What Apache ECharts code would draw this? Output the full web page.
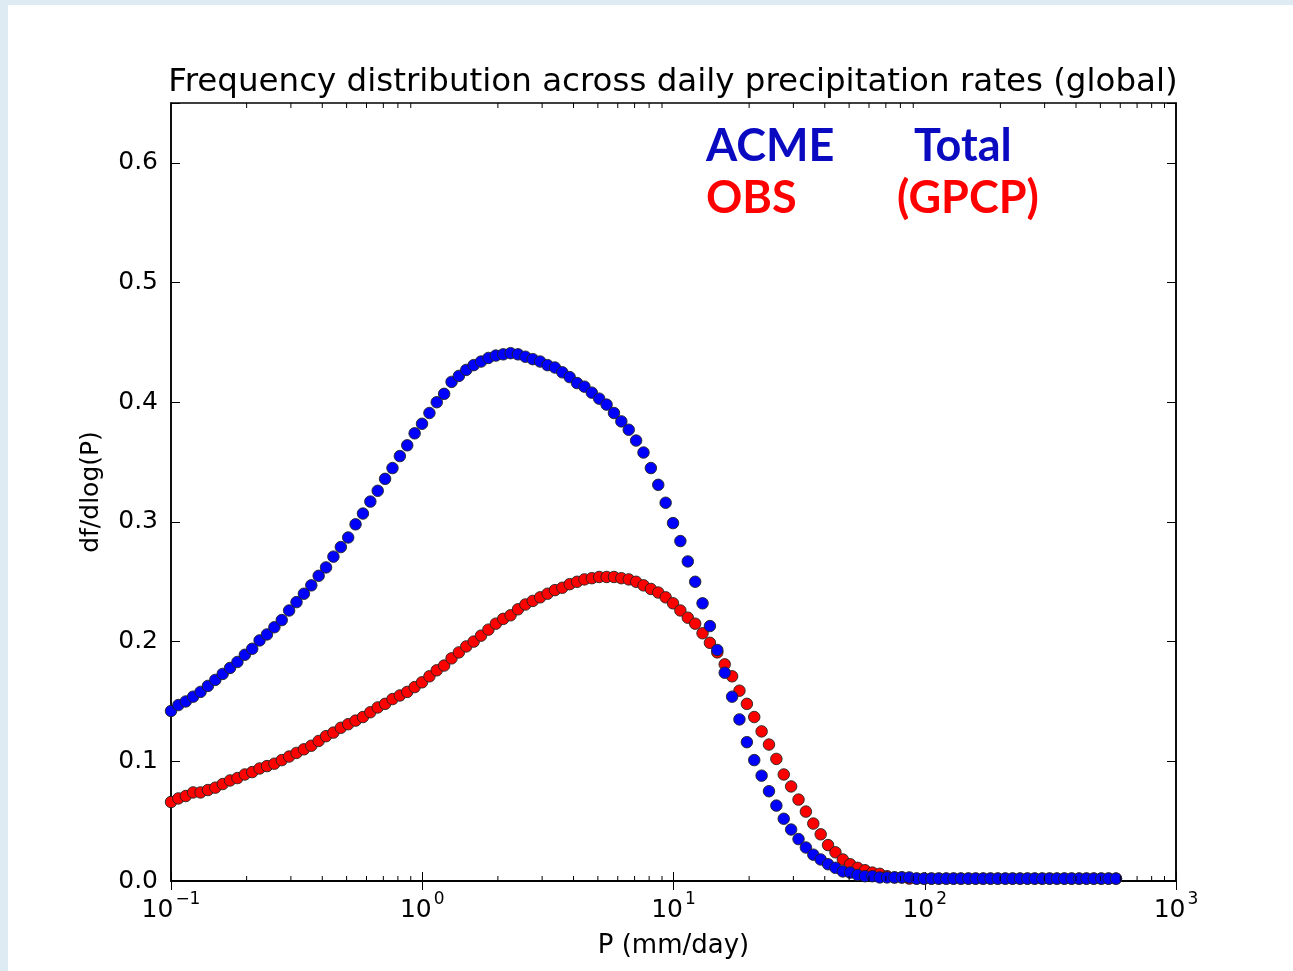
<!DOCTYPE html>
<html>
<head>
<meta charset="utf-8">
<script src="https://cdn.jsdelivr.net/npm/echarts@6/dist/echarts.min.js"></script>
<style>
  html, body { margin: 0; padding: 0; background: #ffffff; }
  #chart { width: 1293px; height: 971px; }
</style>
</head>
<body>
<div id="chart"></div>
<script>
// Precipitation-rate bin centres (mm/day), bins growing by ~7 % each
const precipBins = [
  0.1, 0.107, 0.1145, 0.1225, 0.1311, 0.1403, 0.1501, 0.1606, 0.1718, 0.1838,
  0.1967, 0.2105, 0.2252, 0.2410, 0.2579, 0.2759, 0.2952, 0.3159, 0.3380, 0.3617,
  0.3870, 0.4141, 0.4430, 0.4741, 0.5072, 0.5427, 0.5807, 0.6214, 0.6649, 0.7114,
  0.7612, 0.8145, 0.8715, 0.9325, 0.9978, 1.068, 1.142, 1.222, 1.308, 1.399,
  1.497, 1.602, 1.714, 1.834, 1.963, 2.100, 2.247, 2.405, 2.573, 2.753,
  2.946, 3.152, 3.373, 3.609, 3.861, 4.132, 4.421, 4.730, 5.061, 5.416,
  5.795, 6.200, 6.634, 7.099, 7.596, 8.127, 8.696, 9.305, 9.956, 10.65,
  11.40, 12.20, 13.05, 13.96, 14.94, 15.99, 17.11, 18.30, 19.59, 20.96,
  22.42, 23.99, 25.67, 27.47, 29.39, 31.45, 33.65, 36.01, 38.53, 41.22,
  44.11, 47.20, 50.50, 54.04, 57.82, 61.87, 66.20, 70.83, 75.79, 81.09,
  86.77, 92.85, 99.34, 106.3, 113.7, 121.7, 130.2, 139.3, 149.1, 159.5,
  170.7, 182.6, 195.4, 209.1, 223.7, 239.4, 256.2, 274.1, 293.3, 313.8,
  335.8, 359.3, 384.4, 411.3, 440.1, 470.9, 503.9, 539.2, 576.9
];

// ACME Total, df/dlog(P)
const acmeTotal = [
  0.142, 0.147, 0.150, 0.154, 0.158, 0.163, 0.168, 0.173, 0.178, 0.183,
  0.189, 0.194, 0.201, 0.206, 0.212, 0.218, 0.226, 0.233, 0.240, 0.247,
  0.255, 0.262, 0.271, 0.279, 0.287, 0.298, 0.307, 0.317, 0.326, 0.336,
  0.345, 0.355, 0.364, 0.374, 0.382, 0.391, 0.400, 0.407, 0.417, 0.422,
  0.427, 0.431, 0.434, 0.437, 0.439, 0.440, 0.441, 0.440, 0.438, 0.436,
  0.434, 0.431, 0.429, 0.425, 0.421, 0.416, 0.413, 0.408, 0.403, 0.398,
  0.391, 0.384, 0.377, 0.368, 0.358, 0.345, 0.331, 0.316, 0.299, 0.284,
  0.267, 0.250, 0.232, 0.213, 0.193, 0.174, 0.154, 0.135, 0.116, 0.101,
  0.088, 0.075, 0.063, 0.052, 0.043, 0.035, 0.028, 0.022, 0.018, 0.014,
  0.011, 0.008, 0.007, 0.005, 0.004, 0.004, 0.003, 0.003, 0.003, 0.003,
  0.003, 0.002, 0.002, 0.002, 0.002, 0.002, 0.002, 0.002, 0.002, 0.002,
  0.002, 0.002, 0.002, 0.002, 0.002, 0.002, 0.002, 0.002, 0.002, 0.002,
  0.002, 0.002, 0.002, 0.002, 0.002, 0.002, 0.002, 0.002, 0.002
];

// OBS (GPCP), df/dlog(P)
const obsGpcp = [
  0.066, 0.069, 0.071, 0.074, 0.074, 0.076, 0.078, 0.081, 0.084, 0.086,
  0.089, 0.091, 0.094, 0.096, 0.098, 0.101, 0.104, 0.107, 0.110, 0.113,
  0.117, 0.121, 0.124, 0.128, 0.131, 0.134, 0.137, 0.141, 0.145, 0.148,
  0.152, 0.155, 0.158, 0.162, 0.166, 0.171, 0.176, 0.180, 0.186, 0.191,
  0.196, 0.200, 0.205, 0.210, 0.215, 0.219, 0.222, 0.227, 0.231, 0.234,
  0.237, 0.240, 0.243, 0.245, 0.248, 0.250, 0.252, 0.253, 0.254, 0.254,
  0.254, 0.253, 0.252, 0.250, 0.247, 0.244, 0.241, 0.237, 0.232, 0.226,
  0.220, 0.215, 0.207, 0.199, 0.191, 0.181, 0.171, 0.159, 0.148, 0.137,
  0.125, 0.114, 0.102, 0.089, 0.079, 0.068, 0.058, 0.048, 0.039, 0.030,
  0.024, 0.018, 0.014, 0.011, 0.009, 0.007, 0.006, 0.004, 0.003, 0.003,
  0.002, 0.002, 0.002, 0.002, 0.002, 0.002, 0.002, 0.002, 0.002, 0.002,
  0.002, 0.002, 0.002, 0.002, 0.002, 0.002, 0.002, 0.002, 0.002, 0.002,
  0.002, 0.002, 0.002, 0.002, 0.002, 0.002, 0.002, 0.002, 0.002
];

// Minor tick values of the logarithmic x axis
const minorTickValues = [
  0.2, 0.3, 0.4, 0.5, 0.6, 0.7, 0.8, 0.9,
  2, 3, 4, 5, 6, 7, 8, 9,
  20, 30, 40, 50, 60, 70, 80, 90,
  200, 300, 400, 500, 600, 700, 800, 900
];

const titleText = 'Frequency distribution across daily precipitation rates (global)';
const xAxisName = 'P (mm/day)';
const yAxisName = 'df/dlog(P)';

const chart = echarts.init(document.getElementById('chart'), null, { renderer: 'canvas' });

const supDigits = v => {
  const e = Math.round(Math.log10(v));
  return '{b|10}{s|' + (e < 0 ? '\u2212' + (-e) : String(e)) + '}';
};

const annFont = 'bold 45px Lato';

const option = {
  animation: false,
  backgroundColor: '#ffffff',
  title: {
    text: titleText,
    left: 668,
    textAlign: 'center',
    top: 61,
    textStyle: { fontFamily: 'DejaVu Sans', fontSize: 32.5, fontWeight: 'normal', color: '#000' }
  },
  graphic: [
    { type: 'rect', z: -10, shape: { x: 0, y: 0, width: 1293, height: 5 }, style: { fill: '#deebf2' } },
    { type: 'rect', z: -10, shape: { x: 0, y: 0, width: 8, height: 971 }, style: { fill: '#deebf2' } },
    { type: 'text', z: 100, x: 706, y: 146, style: { text: 'ACME', fill: '#0a0ac0', font: annFont, verticalAlign: 'middle', align: 'left' } },
    { type: 'text', z: 100, x: 914, y: 146, style: { text: 'Total', fill: '#0a0ac0', font: annFont, verticalAlign: 'middle', align: 'left' } },
    { type: 'text', z: 100, x: 706, y: 198, style: { text: 'OBS', fill: '#ff0000', font: annFont, verticalAlign: 'middle', align: 'left' } },
    { type: 'text', z: 100, x: 897, y: 198, style: { text: '(GPCP)', fill: '#ff0000', font: annFont, verticalAlign: 'middle', align: 'left' } }
  ],
  grid: {
    left: 171, top: 103, right: 117, bottom: 90,
    show: true, borderColor: '#000', borderWidth: 1.5, backgroundColor: 'transparent'
  },
  xAxis: [
    {
      type: 'log', logBase: 10, min: 0.1, max: 1000, position: 'bottom',
      name: xAxisName, nameLocation: 'middle', nameGap: 52,
      nameTextStyle: { fontFamily: 'DejaVu Sans', fontSize: 26, color: '#000' },
      axisLine: { lineStyle: { color: '#000', width: 1.5 } },
      axisTick: { inside: true, length: 9, lineStyle: { color: '#000', width: 1 } },
      splitLine: { show: false },
      axisLabel: {
        margin: 10,
        formatter: supDigits,
        rich: {
          b: { fontFamily: 'DejaVu Sans', fontSize: 25, color: '#000', lineHeight: 32, verticalAlign: 'bottom' },
          s: { fontFamily: 'DejaVu Sans', fontSize: 17, color: '#000', lineHeight: 32, verticalAlign: 'top', padding: [0, 0, 0, 2] }
        }
      }
    },
    {
      type: 'log', logBase: 10, min: 0.1, max: 1000, position: 'top',
      axisLine: { show: true, lineStyle: { color: '#000', width: 1.5 } },
      axisTick: { inside: true, length: 9, lineStyle: { color: '#000', width: 1 } },
      axisLabel: { show: false },
      splitLine: { show: false }
    }
  ],
  yAxis: [
    {
      type: 'value', min: 0, max: 0.65, interval: 0.1, position: 'left',
      name: yAxisName, nameLocation: 'middle', nameGap: 67,
      nameTextStyle: { fontFamily: 'DejaVu Sans', fontSize: 25, color: '#000' },
      axisLine: { show: true, lineStyle: { color: '#000', width: 1.5 } },
      axisTick: { inside: true, length: 9, lineStyle: { color: '#000', width: 1 } },
      splitLine: { show: false },
      axisLabel: {
        margin: 13, fontFamily: 'DejaVu Sans', fontSize: 25, color: '#000',
        formatter: v => (Math.abs(v * 10 - Math.round(v * 10)) < 1e-6 ? v.toFixed(1) : '')
      }
    },
    {
      type: 'value', min: 0, max: 0.65, interval: 0.1, position: 'right',
      axisLine: { show: true, lineStyle: { color: '#000', width: 1.5 } },
      axisTick: { inside: true, length: 9, lineStyle: { color: '#000', width: 1 } },
      axisLabel: { show: false },
      splitLine: { show: false }
    }
  ],
  series: [
    {
      name: 'OBS (GPCP)', type: 'scatter', xAxisIndex: 0, yAxisIndex: 0,
      data: precipBins.map((p, i) => [p, obsGpcp[i]]),
      symbol: 'circle', symbolSize: 11.5,
      itemStyle: { color: '#ff0000', borderColor: '#222', borderWidth: 0.9, opacity: 1 },
      emphasis: { disabled: true }, z: 3
    },
    {
      name: 'ACME Total', type: 'scatter', xAxisIndex: 0, yAxisIndex: 0,
      data: precipBins.map((p, i) => [p, acmeTotal[i]]),
      symbol: 'circle', symbolSize: 11.5,
      itemStyle: { color: '#0000ff', borderColor: '#222', borderWidth: 0.9, opacity: 1 },
      emphasis: { disabled: true }, z: 4
    },
    {
      name: 'minor ticks', type: 'custom', xAxisIndex: 0, yAxisIndex: 0,
      silent: true, z: 5, clip: false,
      data: minorTickValues.map(v => [v, 0]),
      encode: { x: 0, y: 1 },
      renderItem: (params, api) => {
        const x = api.coord([api.value(0), 0])[0];
        const cs = params.coordSys;
        const bottom = cs.y + cs.height;
        return {
          type: 'group',
          children: [
            { type: 'line', shape: { x1: x, y1: bottom, x2: x, y2: bottom - 5 }, style: { stroke: '#000', lineWidth: 1 } },
            { type: 'line', shape: { x1: x, y1: cs.y, x2: x, y2: cs.y + 5 }, style: { stroke: '#000', lineWidth: 1 } }
          ]
        };
      }
    }
  ]
};

chart.setOption(option);
</script>
</body>
</html>
